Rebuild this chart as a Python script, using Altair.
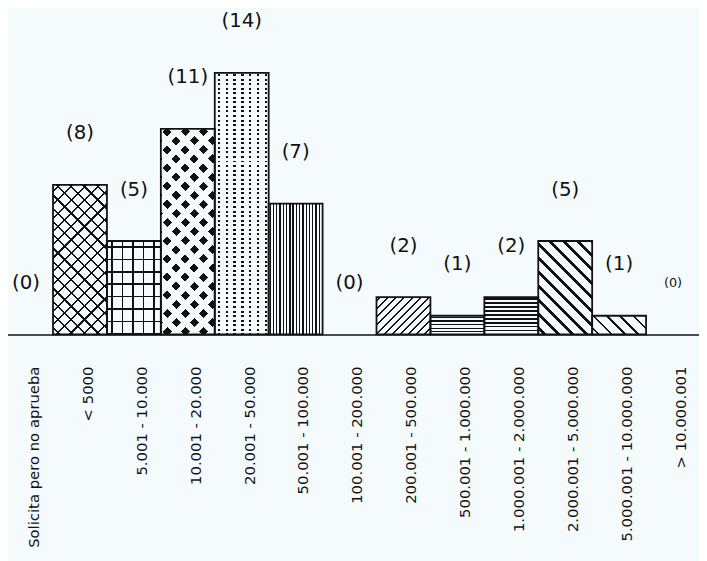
import math
import altair as alt
import pandas as pd

# ---------------- data ----------------
categories = ["Solicita pero no aprueba", "< 5000", "5.001 - 10.000", "10.001 - 20.000",
              "20.001 - 50.000", "50.001 - 100.000", "100.001 - 200.000", "200.001 - 500.000",
              "500.001 - 1.000.000", "1.000.001 - 2.000.000", "2.000.001 - 5.000.000",
              "5.000.001 - 10.000.000", "> 10.000.001"]
counts = [0, 8, 5, 11, 14, 7, 0, 2, 1, 2, 5, 1, 0]

df = pd.DataFrame({"category": categories, "value": counts})

# ---------------- style ----------------
BG = "#f5fbfd"
INK = "#111111"
W, H = 699, 327
X_RANGE = [-9, 700]
Y_MAX = 17.3
BAND = (X_RANGE[1] - X_RANGE[0]) / len(categories)


def stripe_grad(theta_deg, period, line, ink, paper, w, h):
    """Linear gradient with hard stops that draws parallel stripes on a box w x h."""
    th = math.radians(theta_deg)
    c, s = math.cos(th), math.sin(th)
    corners = [(0, 0), (w, 0), (0, h), (w, h)]
    proj = [x * c + y * s for x, y in corners]
    s0, s1 = min(proj), max(proj)
    L = s1 - s0
    i0 = proj.index(s0)
    p1 = (corners[i0][0] / w, corners[i0][1] / h)
    u = (c / h, s / w)
    uu = u[0] ** 2 + u[1] ** 2
    k = L / (w * h * uu)
    p2 = (p1[0] + k * u[0], p1[1] + k * u[1])
    stops = [{"offset": 0, "color": paper}]
    phase = (period - line) / 2
    j = 0
    while True:
        a = phase + j * period
        if a >= L:
            break
        b = a + line
        ao, bo = round(min(a / L, 1), 5), round(min(b / L, 1), 5)
        stops += [{"offset": ao, "color": paper}, {"offset": ao, "color": ink},
                  {"offset": bo, "color": ink}, {"offset": bo, "color": paper}]
        j += 1
    stops.append({"offset": 1, "color": paper})
    return {"gradient": "linear", "x1": round(p1[0], 5), "y1": round(p1[1], 5),
            "x2": round(p2[0], 5), "y2": round(p2[1], 5), "stops": stops}


# (angle, period px, line px, ink, paper) per layer
patterns = {
    "< 5000": [(45, 9.5, 1.6, INK, BG), (-45, 9.5, 1.6, INK, "transparent")],
    "5.001 - 10.000": [(0, 10.6, 1.6, INK, BG), (90, 12.5, 1.6, INK, "transparent")],
    "10.001 - 20.000": [(45, 13, 6.5, INK, BG), (-45, 13, 6.5, "transparent", BG)],
    "20.001 - 50.000": [(0, 8, 2.2, INK, BG), (90, 4.6, 2.0, "transparent", BG)],
    "50.001 - 100.000": [(0, 3.3, 1.3, INK, BG)],
    "200.001 - 500.000": [(45, 5.8, 1.4, INK, BG)],
    "500.001 - 1.000.000": [(90, 3.6, 1.3, INK, BG)],
    "1.000.001 - 2.000.000": [(90, 4.0, 1.6, INK, BG)],
    "2.000.001 - 5.000.000": [(-45, 10, 2.8, INK, BG)],
    "5.000.001 - 10.000.000": [(-45, 9.5, 1.8, INK, BG)],
}

x_enc = alt.X("category:N", sort=categories,
              scale=alt.Scale(range=X_RANGE, paddingInner=0, paddingOuter=0),
              axis=alt.Axis(title=None, labelAngle=270, labelFont="DejaVu Sans",
                            labelFontSize=15, labelColor=INK, labelPadding=32,
                            labelLimit=400, labelOffset=8, ticks=False, tickSize=0,
                            domain=True, domainColor=INK, domainWidth=1.6, grid=False,
                            labelAlign="right", labelBaseline="middle"))
y_enc = alt.Y("value:Q", scale=alt.Scale(domain=[0, Y_MAX], nice=False), axis=None)

base = alt.Chart(df)

layers = []
for cat, val in zip(categories, counts):
    if val <= 0 or cat not in patterns:
        continue
    bh = val * H / Y_MAX
    for (ang, per, ln, ink, paper) in patterns[cat]:
        grad = stripe_grad(ang, per, ln, ink, paper, BAND, bh)
        layers.append(
            base.transform_filter(alt.datum.category == cat)
            .mark_bar(fill=grad, strokeWidth=0)
            .encode(x=x_enc, y=y_enc)
        )

outline = (base.transform_filter(alt.datum.value > 0)
           .mark_bar(fillOpacity=0, stroke=INK, strokeWidth=1.8)
           .encode(x=x_enc, y=y_enc))

labels = (base.transform_calculate(label="'(' + datum.value + ')'")
          .mark_text(dy=-52, font="DejaVu Sans", color=INK, baseline="middle")
          .encode(x=x_enc, y=y_enc, text="label:N",
                  size=alt.condition(alt.datum.category == "> 10.000.001",
                                     alt.value(13), alt.value(20))))

chart = (alt.layer(*layers, outline, labels)
         .properties(width=W, height=H,
                     autosize=alt.AutoSizeParams(type="none"),
                     padding={"left": 0, "right": 0, "top": 0, "bottom": 226},
                     background=BG)
         .configure_view(stroke=None))

chart.save("out.html", embed_options={"renderer": "svg", "actions": False})
